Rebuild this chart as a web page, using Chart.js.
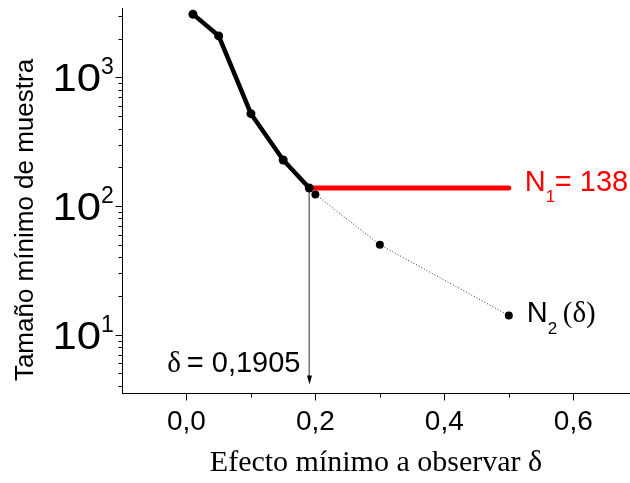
<!DOCTYPE html>
<html>
<head>
<meta charset="utf-8">
<script src="https://cdn.jsdelivr.net/npm/chart.js@4.4.0/dist/chart.umd.min.js"></script>
<style>
  html, body { margin:0; padding:0; background:#fff; }
  #wrap { width:630px; height:483px; position:relative; }
</style>
</head>
<body>
<div id="wrap"><canvas id="chart"></canvas></div>
<script>
/* ---------- values ---------- */
const deltaN1 = [0.01, 0.05, 0.10, 0.15, 0.1905];   // thick curve
const sizeN1  = [3100, 2100, 522, 228, 138];
const deltaN2 = [0.2, 0.3, 0.5];                    // dotted curve N2(δ)
const sizeN2  = [123, 50, 14.1];
const n1Level = 138;                                // red N1 line
const n1Span  = [0.1905, 0.5];
const deltaMark = 0.1905;                           // arrow down to the axis
const arrowFoot = 4.1;

const xTickValues = [0, 0.1, 0.2, 0.3, 0.4, 0.5, 0.6];
const xTickLabels = ['0,0', '', '0,2', '', '0,4', '', '0,6'];
const yDecades = [1, 2, 3];
const yMinorTicks = [4, 5, 6, 7, 8, 9, 20, 30, 40, 50, 60, 70, 80, 90,
                     200, 300, 400, 500, 600, 700, 800, 900, 2000, 3000];

const SANS = "'Liberation Sans', Arial, sans-serif";
const SERIF = "'Liberation Serif', 'Times New Roman', serif";

/* ---------- ticks, tick labels and notes ---------- */
const decorations = {
  id: 'decorations',
  afterDraw(chart){
    const {ctx, scales:{x, y}} = chart;
    const left = Math.round(x.left) + 0.5;
    const bottom = Math.round(y.bottom) + 0.5;
    ctx.save();
    ctx.strokeStyle = '#000';
    ctx.lineWidth = 1;

    // y ticks (outside, to the left)
    ctx.beginPath();
    yDecades.forEach(k => {
      const py = Math.round(y.getPixelForValue(Math.pow(10, k))) + 0.5;
      ctx.moveTo(left - 7, py); ctx.lineTo(left, py);
    });
    yMinorTicks.forEach(v => {
      const py = Math.round(y.getPixelForValue(v)) + 0.5;
      ctx.moveTo(left - 4, py); ctx.lineTo(left, py);
    });
    // x ticks (outside, below)
    xTickValues.forEach((v, i) => {
      const px = Math.round(x.getPixelForValue(v)) + 0.5;
      ctx.moveTo(px, bottom); ctx.lineTo(px, bottom + (xTickLabels[i] ? 7 : 4));
    });
    ctx.stroke();

    // y tick labels 10^k, the base drawn a little wide like the original
    ctx.fillStyle = '#000';
    ctx.textBaseline = 'alphabetic';
    yDecades.forEach(k => {
      const py = y.getPixelForValue(Math.pow(10, k));
      ctx.save();
      ctx.translate(101, py + 14);
      ctx.scale(1.15, 1);
      ctx.font = '38px ' + SANS;
      ctx.textAlign = 'right';
      ctx.fillText('10', 0, 0);
      ctx.restore();
      ctx.font = '23px ' + SANS;
      ctx.textAlign = 'left';
      ctx.fillText(String(k), 101, py - 3);
    });

    // y title
    ctx.save();
    ctx.translate(33, 220);
    ctx.rotate(-Math.PI / 2);
    ctx.font = '26px ' + SANS;
    ctx.textAlign = 'center';
    ctx.fillText('Tamaño mínimo de muestra', 0, 0);
    ctx.restore();

    // arrow head
    const ax = Math.round(x.getPixelForValue(deltaMark)) + 0.5;
    const ay = y.getPixelForValue(arrowFoot);
    ctx.beginPath();
    ctx.moveTo(ax, ay);
    ctx.lineTo(ax - 2.5, ay - 9);
    ctx.lineTo(ax + 2.5, ay - 9);
    ctx.closePath();
    ctx.fill();

    // δ = 0,1905
    ctx.textAlign = 'right';
    ctx.font = '29px ' + SANS;
    const eqRight = ax - 9;
    ctx.fillText('= 0,1905', eqRight, 372);
    const eqW = ctx.measureText('= 0,1905').width;
    ctx.font = '29px ' + SERIF;
    ctx.fillText('δ', eqRight - eqW - 6, 372);

    // N1 = 138
    ctx.textAlign = 'left';
    ctx.fillStyle = '#ff0000';
    const nx = x.getPixelForValue(n1Span[1]) + 16;
    const ny = y.getPixelForValue(n1Level) + 3;
    ctx.font = '29px ' + SANS;
    ctx.fillText('N', nx, ny);
    ctx.font = '17px ' + SANS;
    ctx.fillText('1', nx + 21, ny + 11);
    ctx.font = '29px ' + SANS;
    ctx.fillText('= 138', nx + 30, ny);

    // N2(δ)
    ctx.fillStyle = '#000';
    const mx = x.getPixelForValue(deltaN2[deltaN2.length - 1]) + 18;
    const my = y.getPixelForValue(sizeN2[sizeN2.length - 1]) + 7;
    ctx.font = '29px ' + SANS;
    ctx.fillText('N', mx, my);
    ctx.font = '17px ' + SANS;
    ctx.fillText('2', mx + 21, my + 12);
    ctx.font = '29px ' + SERIF;
    ctx.fillText('(δ)', mx + 36, my);
    ctx.restore();
  }
};

const pts = (xs, ys) => xs.map((v, i) => ({x: v, y: ys[i]}));

new Chart(document.getElementById('chart'), {
  type: 'line',
  data: {
    datasets: [
      { data: pts(deltaN1, sizeN1), borderColor: '#000', borderWidth: 4.5,
        pointRadius: 4.5, pointBackgroundColor: '#000', pointBorderWidth: 0, tension: 0 },
      { data: pts(deltaN2, sizeN2), borderColor: '#333', borderWidth: 1, borderDash: [1, 2],
        pointRadius: 4, pointBackgroundColor: '#000', pointBorderWidth: 0, tension: 0 },
      { data: pts(n1Span, [n1Level, n1Level]), borderColor: '#ff0000', borderWidth: 5,
        borderCapStyle: 'round', pointRadius: 0 },
      { data: pts([deltaMark, deltaMark], [n1Level, arrowFoot * 1.1]), borderColor: '#777',
        borderWidth: 1, pointRadius: 0 }
    ]
  },
  options: {
    responsive: true,
    maintainAspectRatio: false,
    animation: false,
    layout: { autoPadding: false, padding: { left: 122, top: 8, right: 0, bottom: 0 } },
    plugins: { legend: { display: false }, tooltip: { enabled: false } },
    scales: {
      x: {
        type: 'linear', min: -0.1, max: 0.688,
        afterBuildTicks: s => { s.ticks = xTickValues.map(v => ({value: v})); },
        afterFit: s => { s.height = 90; },
        grid: { display: false, drawTicks: false },
        border: { display: true, color: '#000', width: 1 },
        ticks: { autoSkip: false, maxRotation: 0, padding: 12, color: '#000',
                 font: { family: SANS, size: 28 },
                 callback: (v, i) => xTickLabels[i] },
        title: { display: true, text: 'Efecto mínimo a observar δ', color: '#000',
                 font: { family: SERIF, size: 30 }, padding: { top: 0, bottom: 2 } }
      },
      y: {
        type: 'logarithmic', min: 3.52, max: 3460,
        afterFit: s => { s.width = 0; },
        grid: { display: false, drawTicks: false },
        border: { display: true, color: '#000', width: 1 },
        ticks: { display: false }
      }
    }
  },
  plugins: [decorations]
});
</script>
</body>
</html>
